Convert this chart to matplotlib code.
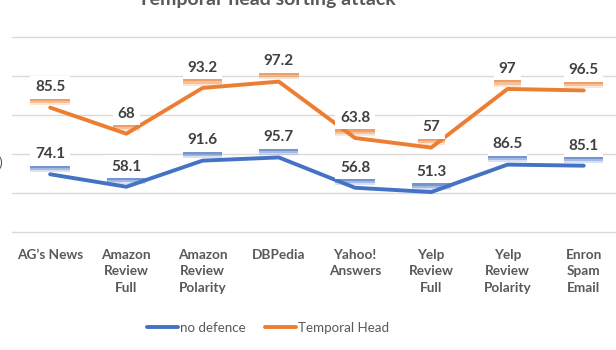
import numpy as np
import matplotlib.pyplot as plt
import matplotlib.patheffects as pe

plt.rcParams['font.family'] = ['Lato', 'DejaVu Sans']

categories = ["AG\u2019s News", "Amazon\nReview\nFull", "Amazon\nReview\nPolarity",
              "DBPedia", "Yahoo!\nAnswers", "Yelp\nReview\nFull",
              "Yelp\nReview\nPolarity", "Enron\nSpam\nEmail"]
no_defence = [74.1, 58.1, 91.6, 95.7, 56.8, 51.3, 86.5, 85.1]
temporal_head = [85.5, 68, 93.2, 97.2, 63.8, 57, 97, 96.5]

blue = '#4472C4'
orange = '#ED7D31'
grey = '#595959'

x = np.arange(len(categories))
# stacked line chart: second series sits on top of the first
stacked = np.array(no_defence) + np.array(temporal_head)

fig = plt.figure(figsize=(6.16, 3.5), dpi=100)
ax = fig.add_axes([0.0195, 0.337, 0.99, 0.557])

ax.plot(x, no_defence, color=blue, lw=2.8, solid_capstyle='round', label='no defence', zorder=3)
ax.plot(x, stacked, color=orange, lw=2.8, solid_capstyle='round', label='Temporal Head', zorder=3)


def label(xv, yv, txt, col):
    t = ax.annotate(txt, (xv, yv), xytext=(0, 14.5), textcoords='offset points',
                    ha='center', va='center', fontsize=11, fontweight='bold',
                    color='#404040', zorder=5,
                    bbox=dict(boxstyle='square,pad=0.3', fc='white', ec='none'))
    t.get_bbox_patch().set_path_effects([
        pe.withSimplePatchShadow(offset=(0, -4.5), shadow_rgbFace=col, alpha=0.2),
        pe.withSimplePatchShadow(offset=(0, -3), shadow_rgbFace=col, alpha=0.35),
        pe.withSimplePatchShadow(offset=(0, -1.5), shadow_rgbFace=col, alpha=0.5),
        pe.Normal()])


for i in range(len(x)):
    label(x[i], no_defence[i], f"{no_defence[i]:g}", blue)
    label(x[i], stacked[i], f"{temporal_head[i]:g}", orange)

ax.set_ylim(0, 250)
ax.set_yticks(np.arange(0, 251, 50))
ax.yaxis.grid(True, color='#D9D9D9', lw=1)
for g in ax.get_ygridlines():
    g.set_clip_on(False)
ax.set_axisbelow(True)
ax.tick_params(axis='y', left=False, labelleft=False)
ax.set_xlim(-0.5, len(x) - 0.5)
ax.set_xticks(x)
ax.set_xticklabels(categories, fontsize=9.8, fontweight='bold', color=grey, linespacing=1.45)
ax.tick_params(axis='x', length=0, pad=12)
for s in ax.spines.values():
    s.set_visible(False)

fig.text(0.434, 1 - 5 / 350, "Temporal-head sorting attack", ha='center', va='baseline',
         fontsize=14, fontweight='bold', color=grey)
fig.text(-0.002, 1 - 163 / 350, ")", ha='left', va='center', fontsize=10, color=grey)

fig.legend(loc='center', bbox_to_anchor=(0.435, 1 - 328 / 350), ncol=2, frameon=False,
           fontsize=9.6, labelcolor=grey, handlelength=2.3, handletextpad=0.15,
           columnspacing=1.45)

fig.savefig('out.png', dpi=100)
